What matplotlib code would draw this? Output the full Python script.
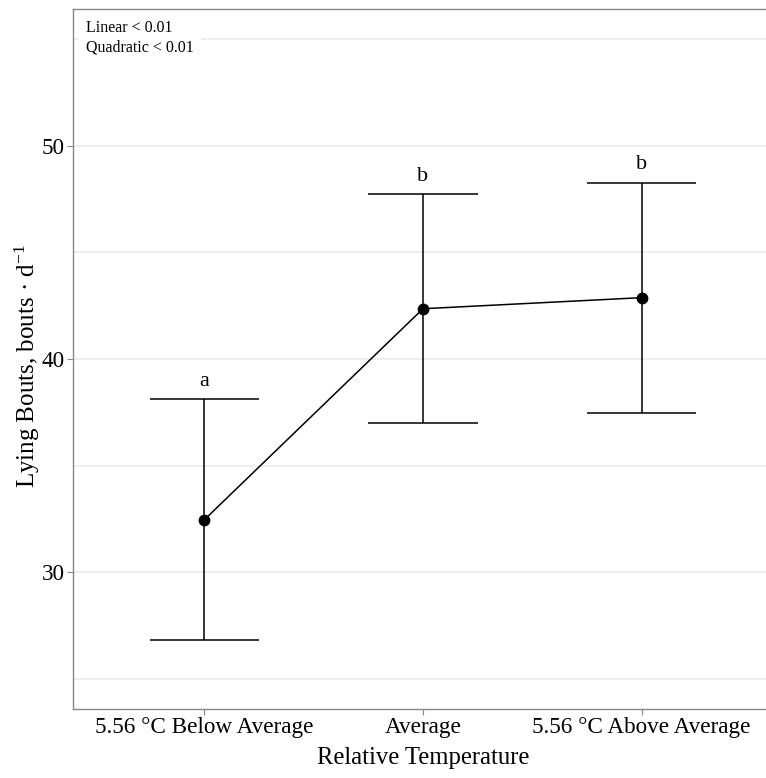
import matplotlib.pyplot as plt
import numpy as np

# Lying bouts by relative temperature

categories = ['5.56 °C Below Average', 'Average', '5.56 °C Above Average']
means = [32.45, 42.36, 42.88]
errors = [5.65, 5.38, 5.4]
letters = ['a', 'b', 'b']
yticks = [30, 40, 50]
minor_yticks = [25, 35, 45, 55]


def draw_lying_bouts():
    plt.rcParams['font.family'] = ['Liberation Serif', 'DejaVu Serif']
    plt.rcParams['mathtext.fontset'] = 'stix'

    fig = plt.figure(figsize=(7.66, 7.78), dpi=100)
    # panel runs slightly past the right edge, as in the original
    ax = fig.add_axes([73 / 766, 1 - 709 / 778, 700 / 766, 700 / 778])

    x = np.arange(1, len(categories) + 1)
    m = np.array(means)
    e = np.array(errors)

    # error bars with caps in data units
    ax.vlines(x, m - e, m + e, color='black', linewidth=1.1, zorder=3)
    ax.hlines(m - e, x - 0.25, x + 0.25, color='black', linewidth=1.1, zorder=3)
    ax.hlines(m + e, x - 0.25, x + 0.25, color='black', linewidth=1.1, zorder=3)
    ax.plot(x, m, color='black', linewidth=1.1, marker='o', markersize=7.5, zorder=4)

    for xi, top, lab in zip(x, m + e, letters):
        ax.text(xi, top + 0.4, lab, ha='center', va='bottom', fontsize=16)

    ax.set_xlim(0.4, 3.6)
    ax.set_ylim(23.57, 56.43)
    ax.set_xticks(x)
    ax.set_xticklabels(categories)
    ax.set_yticks(yticks)
    ax.set_yticks(minor_yticks, minor=True)
    ax.tick_params(axis='both', which='major', labelsize=16.7, length=4,
                   color='#888888', labelcolor='black', pad=2)
    ax.tick_params(axis='y', which='minor', length=0)

    ax.grid(axis='y', which='both', color='#EBEBEB', linewidth=1.2, zorder=0)
    ax.set_axisbelow(True)
    for s in ax.spines.values():
        s.set_color('#888888')
        s.set_linewidth(1.0)

    ax.set_xlabel('Relative Temperature', fontsize=17.7, labelpad=6)
    ax.set_ylabel('Lying Bouts, bouts · d$^{\\mathregular{-1}}$', fontsize=18, va='center')
    ax.yaxis.set_label_coords(-0.066, 0.49)

    ax.text(0.019, 0.984, 'Linear < 0.01\nQuadratic < 0.01', transform=ax.transAxes,
            ha='left', va='top', fontsize=11.5, linespacing=1.25,
            bbox=dict(facecolor='white', edgecolor='none', pad=5))

    fig.savefig('out.png', dpi=100)


if __name__ == '__main__':
    draw_lying_bouts()
